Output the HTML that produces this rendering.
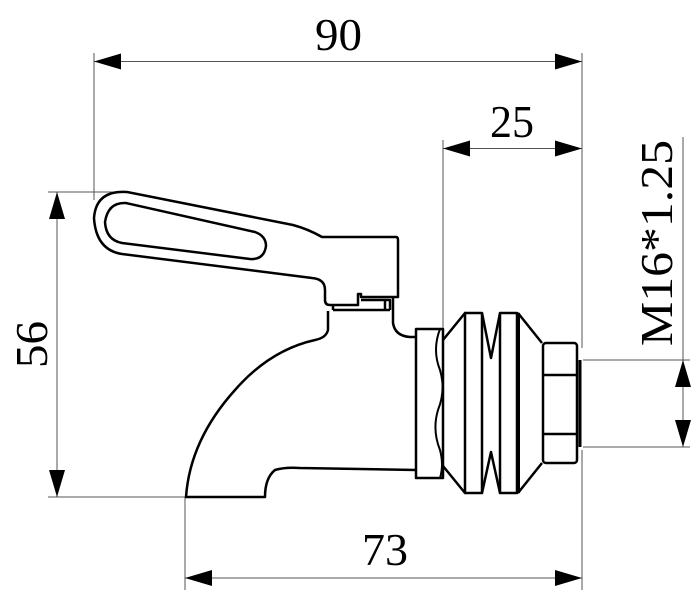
<!DOCTYPE html>
<html><head><style>html,body{margin:0;padding:0;background:#fff}svg{display:block}</style></head>
<body>
<svg width="700" height="600" viewBox="0 0 700 600" xmlns="http://www.w3.org/2000/svg">
<g stroke="#555" stroke-width="1" fill="none">
<line x1="94" y1="53" x2="94" y2="200"/>
<line x1="582" y1="53" x2="582" y2="348"/>
<line x1="582" y1="450" x2="582" y2="590"/>
<line x1="94" y1="61.5" x2="582" y2="61.5"/>
<line x1="443" y1="140" x2="443" y2="330"/>
<line x1="443" y1="148.5" x2="582" y2="148.5"/>
<line x1="48" y1="192" x2="120" y2="192"/>
<line x1="48" y1="497" x2="185" y2="497"/>
<line x1="57" y1="192" x2="57" y2="497"/>
<line x1="185" y1="497" x2="185" y2="590"/>
<line x1="185" y1="578" x2="582" y2="578"/>
<line x1="583" y1="360" x2="690" y2="360"/>
<line x1="583" y1="447" x2="690" y2="447"/>
<line x1="683" y1="137" x2="683" y2="447"/>
</g>
<g fill="#000">
<polygon points="94,61.5 121,53.5 121,69.5"/>
<polygon points="582,61.5 555,53.5 555,69.5"/>
<polygon points="443,148.5 470,140.5 470,156.5"/>
<polygon points="582,148.5 555,140.5 555,156.5"/>
<polygon points="57,192 49,219 65,219"/>
<polygon points="57,497 49,470 65,470"/>
<polygon points="185,578 212,570 212,586"/>
<polygon points="582,578 555,570 555,586"/>
<polygon points="683,360 675,387 691,387"/>
<polygon points="683,447 675,420 691,420"/>
</g>
<g font-family="Liberation Serif, serif" font-size="46" fill="#000" lengthAdjust="spacingAndGlyphs">
<text x="315" y="50" textLength="47" lengthAdjust="spacingAndGlyphs">90</text>
<text x="490" y="137" textLength="44" lengthAdjust="spacingAndGlyphs">25</text>
<text x="362" y="565" textLength="46" lengthAdjust="spacingAndGlyphs">73</text>
<text transform="translate(47,368) rotate(-90)" textLength="47" lengthAdjust="spacingAndGlyphs">56</text>
<text transform="translate(672,346) rotate(-90)" textLength="206" lengthAdjust="spacingAndGlyphs">M16*1.25</text>
</g>
<g stroke="#000" stroke-width="2.5" fill="none" stroke-linejoin="round">
<path d="M127,192 L293,225 Q308,229 322,237 L396,237 Q398,237 398,240 L398,297 L361,297 L361,294 L358,294 L358,305 L330,305 Q325,305 325,300 L325,290 Q325,279 312,278 L122,254 Q96,250 94,218 Q96,190 127,192 Z"/>
<path d="M126,203 L255,232 Q266,236 266,246 Q264,260 250,259 L122,243 Q106,240 105,222 Q108,202 126,203 Z"/>
<path d="M333,310 L390,310 M333,310 L333,306 M361,300 L390,300 L390,310 M385,300 L385,310"/>
<path d="M328,311 L328,330 Q326,338 315,340 Q270,350 235,390 Q190,440 186,497 L265,497 Q265,478 275,470 Q285,467 300,468 L416,470"/>
<path d="M393,298 L393,323 Q395,336 410,337 L416,337"/>
<path d="M416,329 L416,478 L443,478 L443,329 Z"/>
<path d="M440,329 Q432,350 440,370 Q446,390 438,410 Q432,430 440,450 Q444,465 440,478" stroke-width="2"/>
<path d="M443,340 L465,313 L465,493 L443,466"/>
<path d="M465,313 L482,313 L482,493 L465,493"/>
<path d="M482,313 L491,358 L500,313 M482,493 L491,452 L500,493"/>
<path d="M500,313 L517,313 L517,493 L500,493 Z"/>
<line x1="518" y1="313" x2="518" y2="493" stroke-width="4"/>
<path d="M518,313 L542,343 M518,493 L542,463"/>
<rect x="543" y="343" width="34" height="120" rx="3"/>
<path d="M543,375 L577,375 M543,434 L577,434"/>
<line x1="580" y1="360" x2="580" y2="447" stroke-width="3"/>
</g>
</svg>
</body></html>
